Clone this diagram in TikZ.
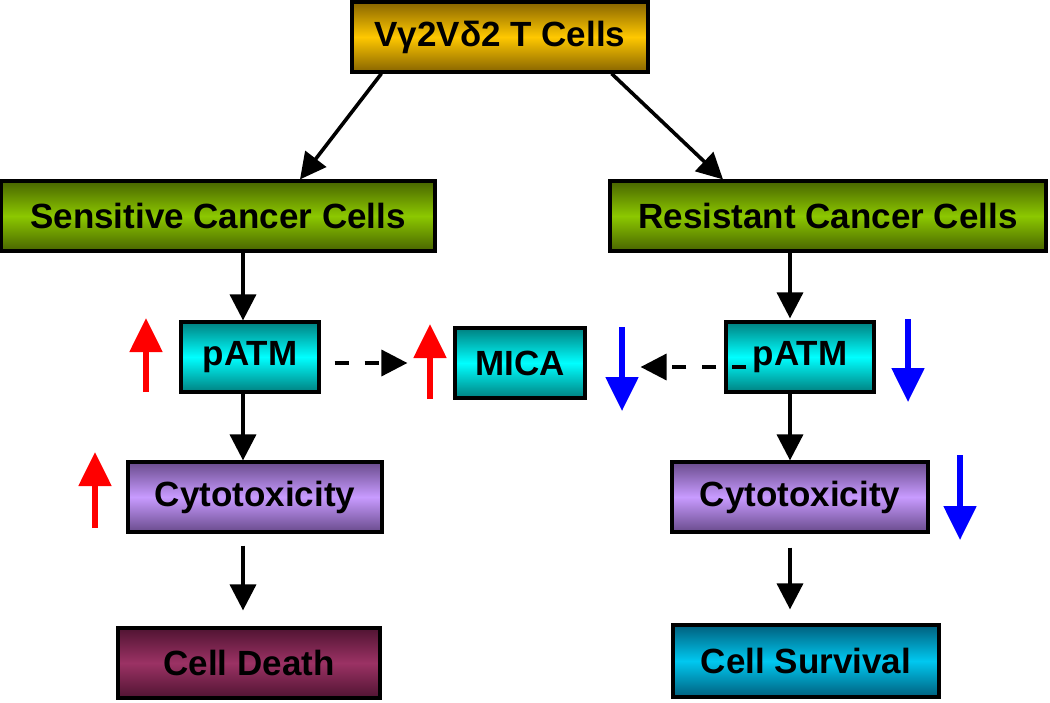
\documentclass[tikz,border=0pt]{standalone}
\usepackage{fontspec}
\setmainfont{Liberation Sans}
\usetikzlibrary{arrows.meta}

\definecolor{golddark}{RGB}{135,100,0}
\definecolor{goldmid}{RGB}{255,200,0}
\definecolor{greendark}{RGB}{72,100,0}
\definecolor{greenmid}{RGB}{140,200,0}
\definecolor{cyandark}{RGB}{0,128,128}
\definecolor{cyanmid}{RGB}{0,255,255}
\definecolor{lilacdark}{RGB}{105,75,140}
\definecolor{lilacmid}{RGB}{200,155,255}
\definecolor{plumdark}{RGB}{80,20,50}
\definecolor{plummid}{RGB}{155,50,100}
\definecolor{skydark}{RGB}{0,95,125}
\definecolor{skymid}{RGB}{0,200,240}

\tikzset{
  box/.style={draw, line width=1.6pt, inner sep=0pt, minimum height=35pt,
    font=\bfseries\fontsize{17.5}{20}\selectfont},
  gold/.style={top color=golddark, bottom color=golddark, middle color=goldmid},
  green/.style={top color=greendark, bottom color=greendark, middle color=greenmid},
  cyanbox/.style={top color=cyandark, bottom color=cyandark, middle color=cyanmid},
  lilac/.style={top color=lilacdark, bottom color=lilacdark, middle color=lilacmid},
  plum/.style={top color=plumdark, bottom color=plumdark, middle color=plummid},
  sky/.style={top color=skydark, bottom color=skydark, middle color=skymid},
  arr/.style={line width=1.8pt, -{Triangle[width=13pt,length=13pt]}},
  dasharr/.style={arr, dash pattern=on 7pt off 8pt},
  uparr/.style={red, line width=2.6pt, -{Triangle[width=16pt,length=17pt]}},
  downarr/.style={blue, line width=2.6pt, -{Triangle[width=16pt,length=17pt]}}
}

\begin{document}
\begin{tikzpicture}[x=0.5pt, y=-0.5pt]
\useasboundingbox (0,0) rectangle (1050,702);

	\node[box, gold, minimum width=148pt] (tcells) at (500,37) {Vγ2Vδ2 T Cells};
	\node[box, green, minimum width=217pt] (sens) at (218,216) {Sensitive Cancer Cells};
	\node[box, green, minimum width=218pt] (res) at (828,216) {Resistant Cancer Cells};
	\node[box, cyanbox, minimum width=69pt] (patmL) at (250,357) {pATM};
	\node[box, cyanbox, minimum width=65pt] (mica) at (520,363) {MICA};
	\node[box, cyanbox, minimum width=74pt] (patmR) at (800,357) {pATM};
	\node[box, lilac, minimum width=127pt] (cytoL) at (255,497) {Cytotoxicity};
	\node[box, lilac, minimum width=128pt] (cytoR) at (800,497) {Cytotoxicity};
	\node[box, plum, minimum width=131pt] (death) at (249,663) {Cell Death};
	\node[box, sky, minimum width=133pt, minimum height=36pt] (surv) at (806,661) {Cell Survival};

	\coordinate (colL) at (243,0);
	\coordinate (colR) at (790,0);

\draw[arr] ([xshift=15.5pt]tcells.south west) -- ([xshift=41pt]sens.north);
\draw[arr] ([xshift=-19pt]tcells.south east) -- ([xshift=-52.5pt]res.north);

\draw[arr] (colL |- sens.south) -- (colL |- patmL.north);
\draw[arr] (colL |- patmL.south) -- (colL |- cytoL.north);
\draw[arr, shorten <=6pt, shorten >=8pt] (colL |- cytoL.south) -- (colL |- death.north);

\draw[arr, shorten >=1pt] (colR |- res.south) -- (colR |- patmR.north);
\draw[arr] (colR |- patmR.south) -- (colR |- cytoR.north);
\draw[arr, shorten <=7pt, shorten >=7pt] (colR |- cytoR.south) -- (colR |- surv.north);

\draw[dasharr, shorten <=7pt, shorten >=23pt] (patmL.east |- mica.west) -- (mica.west);
\draw[dasharr, shorten <=-11pt, shorten >=27pt] ([yshift=-5pt]patmR.west) -- ([yshift=-5pt]patmR.west -| mica.east);

	\coordinate (upA) at (146,392);
	\coordinate (upB) at (430,399);
	\coordinate (upC) at (95,528);
	\coordinate (dnA) at (622,327);
	\coordinate (dnB) at (908,319);
	\coordinate (dnC) at (960,455);
\draw[uparr] (upA) -- ++(0,-74);
\draw[uparr] (upB) -- ++(0,-75);
\draw[uparr] (upC) -- ++(0,-76);
\draw[downarr] (dnA) -- ++(0,84);
\draw[downarr] (dnB) -- ++(0,83);
\draw[downarr] (dnC) -- ++(0,85);
\end{tikzpicture}
\end{document}
